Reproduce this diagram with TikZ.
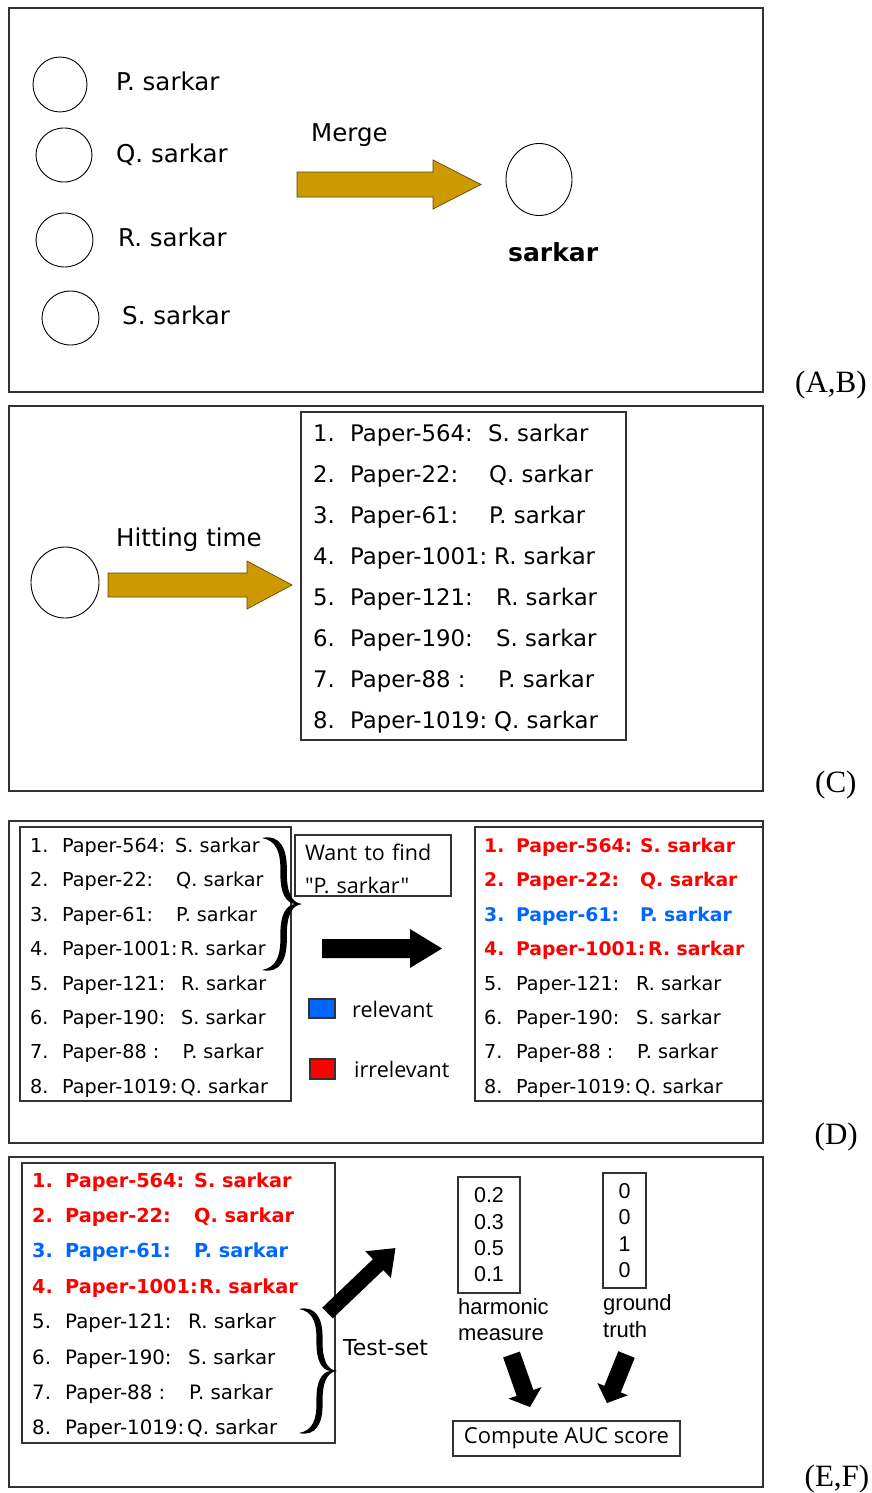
\documentclass[tikz,border=0pt]{standalone}
\usepackage{fontspec}
\setmainfont{DejaVu Sans}
\newfontfamily\serifface{Liberation Serif}
\newfontfamily\arialface{Liberation Sans}
\newfontfamily\handface{Open Sans}
\usetikzlibrary{shapes.geometric}
\definecolor{gold}{RGB}{204,153,0}
\definecolor{goldedge}{RGB}{95,72,0}
\definecolor{hotred}{RGB}{255,0,0}
\definecolor{hotblue}{RGB}{0,102,255}
\definecolor{edge}{RGB}{50,50,50}

% block arrow: [style]{x}{y}{angle}{length}{shaft width}{head width}{head length}
\newcommand\blockarrow[8][]{%
  \path[#1, shift={(#2,#3)}, rotate=#4]
    (0,{-#6/2}) -- ({#5-#8},{-#6/2}) -- ({#5-#8},{-#7/2}) -- (#5,0)
    -- ({#5-#8},{#7/2}) -- ({#5-#8},{#6/2}) -- (0,{#6/2}) -- cycle;}

% right curly brace: {left x}{top y}{width}{height}
\newcommand\curlybrace[4]{%
  \fill[shift={(#1,#2)}, xscale=#3, yscale=#4]
    (0,0) .. controls (0.45,-0.03) and (0.63,0.08) .. (0.62,0.24)
    .. controls (0.61,0.40) and (0.72,0.49) .. (1,0.5)
    .. controls (0.72,0.51) and (0.61,0.60) .. (0.62,0.76)
    .. controls (0.63,0.92) and (0.45,1.03) .. (0,1)
    .. controls (0.35,0.98) and (0.47,0.90) .. (0.46,0.74)
    .. controls (0.45,0.58) and (0.60,0.51) .. (0.82,0.5)
    .. controls (0.60,0.49) and (0.45,0.42) .. (0.46,0.26)
    .. controls (0.47,0.10) and (0.35,0.02) .. (0,0) -- cycle;}

\begin{document}
\begin{tikzpicture}[x=1pt, y=-1pt,
  panel/.style={draw=edge, line width=1.3},
  boxed/.style={draw=edge, line width=1.2, inner sep=0},
  lbl/.style={inner sep=0, anchor=base west},
  fsz/.style={font=\fontsize{#1}{#1}\selectfont},
  bsz/.style={font=\bfseries\fontsize{#1}{#1}\selectfont},
  hand/.style={font=\handface\fontsize{#1}{#1}\selectfont},
  tag/.style={inner sep=0, anchor=base west, font=\serifface\fontsize{31}{31}\selectfont},
  person/.style={draw=black, ellipse, line width=0.9, inner sep=0},
  goldarrow/.style={fill=gold, draw=goldedge, line width=0.7},
  blackarrow/.style={fill=black},
  cN/.style={font=\fontsize{22.8}{22.8}\selectfont},
  dN/.style={font=\fontsize{19.2}{19.2}\selectfont},
  dR/.style={font=\bfseries\fontsize{18.8}{18.8}\selectfont, text=hotred},
  dB/.style={dR, text=hotblue},
  eN/.style={font=\fontsize{19.8}{19.8}\selectfont},
  eR/.style={font=\bfseries\fontsize{19.3}{19.3}\selectfont, text=hotred},
  eB/.style={eR, text=hotblue}]
\useasboundingbox (0,0) rectangle (872,1493);

% ---------- (A,B): merging the name variants ----------
\draw[panel] (9,8) rectangle (763,392);
\node[person, minimum width=54, minimum height=55] (p1) at (60,84.5) {};
\node[person, minimum width=56, minimum height=54] (p2) at (64,155) {};
\node[person, minimum width=57, minimum height=54] (p3) at (64.5,240) {};
\node[person, minimum width=57, minimum height=54] (p4) at (70.5,318) {};
\node[lbl, fsz=24.5] (n1) at (116,90.5) {P. sarkar};
\node[lbl, fsz=24.5] (n2) at (116,162) {Q. sarkar};
\node[lbl, fsz=24.5] (n3) at (118,246) {R. sarkar};
\node[lbl, fsz=24.5] (n4) at (122,324) {S. sarkar};
\node[lbl, fsz=24.5] (merge) at (311,142) {Merge};
\blockarrow[goldarrow]{297}{184.5}{0}{184}{25}{49}{48}
\node[person, minimum width=66, minimum height=72] (one) at (539,179.5) {};
\node[lbl, bsz=25] (onename) at (508,261) {sarkar};
\node[tag] (tagAB) at (795,392.5) {(A,B)};

% ---------- (C): ranking by hitting time ----------
\draw[panel] (9,406) rectangle (763,791);
\node[person, minimum width=68, minimum height=71] (q) at (65,582.5) {};
\node[lbl, fsz=24.5] (hit) at (116,546.5) {Hitting time};
\blockarrow[goldarrow]{108}{585}{0}{184}{24}{48}{45}
\draw[boxed] (301,412) rectangle (626,740);
\foreach \p/\s/\xs [count=\i] in {Paper-564:/S. sarkar/488, Paper-22:/Q. sarkar/489,
    Paper-61:/P. sarkar/489, Paper-1001:/R. sarkar/494, Paper-121:/R. sarkar/496,
    Paper-190:/S. sarkar/496, Paper-88 :/P. sarkar/498, Paper-1019:/Q. sarkar/494}{
  \pgfmathsetmacro\yb{441+41*(\i-1)}
  \node[lbl, cN] (cn\i) at (313,\yb) {\i.};
  \node[lbl, cN] (cp\i) at (350,\yb) {\p};
  \node[lbl, cN] (cs\i) at (\xs,\yb) {\s};
}
\node[tag] (tagC) at (815,792.5) {(C)};

% ---------- (D): labelling the ranked list ----------
\draw[panel] (9,821) rectangle (763,1143);
\draw[boxed] (20,827) rectangle (291,1101);
\draw[boxed] (475,827) rectangle (763,1101);
\foreach \p/\s/\xs [count=\i] in {Paper-564:/S. sarkar/175, Paper-22:/Q. sarkar/176,
    Paper-61:/P. sarkar/176, Paper-1001:/R. sarkar/180.5, Paper-121:/R. sarkar/181,
    Paper-190:/S. sarkar/181, Paper-88 :/P. sarkar/182.5, Paper-1019:/Q. sarkar/180.5}{
  \pgfmathsetmacro\yb{852.5+34.4*(\i-1)}
  \node[lbl, dN] (ln\i) at (30,\yb) {\i.};
  \node[lbl, dN] (lp\i) at (62,\yb) {\p};
  \node[lbl, dN] (ls\i) at (\xs,\yb) {\s};
}
\foreach \st/\p/\s/\xs [count=\i] in {dR/Paper-564:/S. sarkar/640, dR/Paper-22:/Q. sarkar/640,
    dB/Paper-61:/P. sarkar/640, dR/Paper-1001:/R. sarkar/648, dN/Paper-121:/R. sarkar/636,
    dN/Paper-190:/S. sarkar/636, dN/Paper-88 :/P. sarkar/637, dN/Paper-1019:/Q. sarkar/635}{
  \pgfmathsetmacro\yb{852.5+34.4*(\i-1)}
  \node[lbl, \st] (rn\i) at (484,\yb) {\i.};
  \node[lbl, \st] (rp\i) at (516,\yb) {\p};
  \node[lbl, \st] (rs\i) at (\xs,\yb) {\s};
}
\curlybrace{262}{838}{40}{132}
\node[boxed, text width=136, inner xsep=10, inner ysep=0, minimum height=61,
  align=left, font=\handface\fontsize{21.5}{33}\selectfont] (want) at (373,865.5)
  {\rule{0pt}{23pt}Want to find\\"P. sarkar"};
\blockarrow[blackarrow]{322}{948.5}{0}{120}{19}{39}{32}
\node[boxed, fill=hotblue, minimum width=26, minimum height=19] (relsq) at (322,1008.5) {};
\node[boxed, fill=hotred, minimum width=25, minimum height=20] (irrsq) at (322.5,1069) {};
\node[lbl, hand=21.5] (rel) at (352,1017) {relevant};
\node[lbl, hand=21.5] (irr) at (354,1077) {irrelevant};
\node[tag] (tagD) at (814.5,1144) {(D)};

% ---------- (E,F): test set and AUC ----------
\draw[panel] (9,1157) rectangle (763,1487);
\draw[boxed] (22,1163) rectangle (335,1443);
\foreach \st/\p/\s/\xs [count=\i] in {eR/Paper-564:/S. sarkar/194, eR/Paper-22:/Q. sarkar/194,
    eB/Paper-61:/P. sarkar/194, eR/Paper-1001:/R. sarkar/199, eN/Paper-121:/R. sarkar/188,
    eN/Paper-190:/S. sarkar/188, eN/Paper-88 :/P. sarkar/189, eN/Paper-1019:/Q. sarkar/187}{
  \pgfmathsetmacro\yb{1187+35.4*(\i-1)}
  \node[lbl, \st] (en\i) at (32,\yb) {\i.};
  \node[lbl, \st] (ep\i) at (65,\yb) {\p};
  \node[lbl, \st] (es\i) at (\xs,\yb) {\s};
}
\curlybrace{299}{1309}{38}{124}
\node[lbl, fsz=22] (testset) at (343,1355) {Test-set};
\blockarrow[blackarrow]{327.5}{1313}{43.7}{94}{15}{37}{24}
\node[boxed, minimum width=62, minimum height=116, align=center,
  font=\arialface\fontsize{21.5}{26.3}\selectfont] (hm) at (489,1235) {0.2\\0.3\\0.5\\0.1};
\node[boxed, minimum width=43, minimum height=115, align=center,
  font=\arialface\fontsize{21.5}{26.6}\selectfont] (gt) at (624.5,1230.5) {0\\0\\1\\0};
\node[lbl, font=\arialface\fontsize{22}{22}\selectfont] (hm1) at (458,1314) {harmonic};
\node[lbl, font=\arialface\fontsize{22}{22}\selectfont] (hm2) at (458,1340) {measure};
\node[lbl, font=\arialface\fontsize{22}{22}\selectfont] (gt1) at (603,1310) {ground};
\node[lbl, font=\arialface\fontsize{22}{22}\selectfont] (gt2) at (603,1337) {truth};
\blockarrow[blackarrow]{511.5}{1354.5}{-70.6}{55.7}{17.7}{35}{15}
\blockarrow[blackarrow]{626.5}{1354.5}{-111.9}{52.3}{17.7}{33}{15}
\node[boxed, minimum width=227, minimum height=35, hand=22] (auc) at (566.5,1438.5) {Compute AUC score};
\node[tag] (tagEF) at (804.5,1486) {(E,F)};
\end{tikzpicture}
\end{document}
